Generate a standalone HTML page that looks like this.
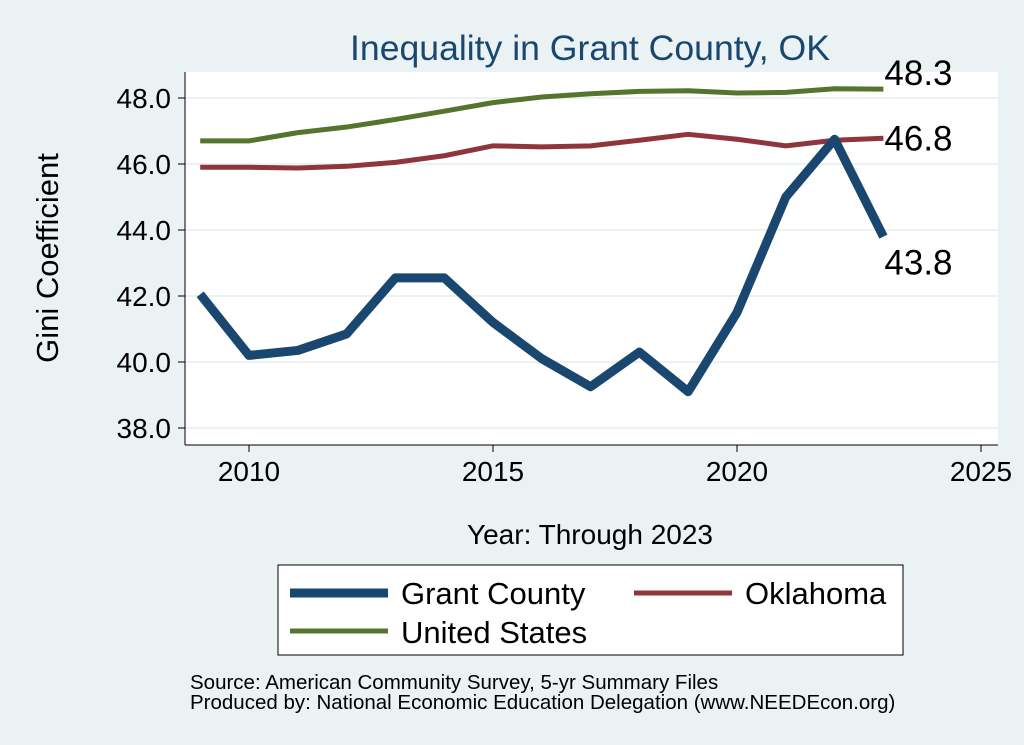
<!DOCTYPE html>
<html><head><meta charset="utf-8"><style>
body{margin:0;background:#eaf2f3;font-family:"Liberation Sans",sans-serif;}
svg{display:block}
</style></head><body>
<svg width="1024" height="745" viewBox="0 0 1024 745">
<rect x="0" y="0" width="1024" height="745" fill="#eaf2f3"/>
<rect x="185" y="72" width="813" height="373" fill="#fff"/>
<text x="590" y="60" text-anchor="middle" font-size="35.6" fill="#1a476f">Inequality in Grant County, OK</text>
<g id="grid"></g><g id="axes"></g><g id="lines"></g>
<text x="58" y="258" text-anchor="middle" font-size="31" transform="rotate(-90 58 258)">Gini Coefficient</text>
<text x="590" y="544" text-anchor="middle" font-size="28">Year: Through 2023</text>
<g>
<rect x="278" y="565" width="625" height="90" fill="#fff" stroke="#000" stroke-width="1"/>
<g><line x1="290" y1="593" x2="388" y2="593" stroke="#1a476f" stroke-width="9"/><text x="401" y="604" font-size="31">Grant County</text></g>
<g><line x1="634" y1="593" x2="732" y2="593" stroke="#90353b" stroke-width="5"/><text x="745" y="604" font-size="31">Oklahoma</text></g>
<g><line x1="290" y1="631" x2="388" y2="631" stroke="#55752f" stroke-width="5"/><text x="401" y="643" font-size="31">United States</text></g>
</g>
<text x="190" y="689" font-size="20.5">Source: American Community Survey, 5-yr Summary Files</text>
<text x="190" y="709" font-size="20.5">Produced by: National Economic Education Delegation (www.NEEDEcon.org)</text>
</svg>
<script>
const years=[2009,2010,2011,2012,2013,2014,2015,2016,2017,2018,2019,2020,2021,2022,2023];
const grant=[42.05,40.2,40.35,40.85,42.55,42.55,41.2,40.1,39.25,40.3,39.1,41.5,45.0,46.75,43.8];
const oklahoma=[45.9,45.9,45.88,45.93,46.05,46.25,46.55,46.52,46.55,46.72,46.9,46.75,46.55,46.72,46.78];
const us=[46.7,46.7,46.95,47.12,47.35,47.6,47.86,48.03,48.13,48.2,48.22,48.15,48.17,48.28,48.27];
const yTicks=[38,40,42,44,46,48];
const xTicks=[2010,2015,2020,2025];
const NS='http://www.w3.org/2000/svg';
const X=v=>249+(v-2010)*48.8;
const Y=v=>428-(v-38)*33;
function mk(t,a,p){const e=document.createElementNS(NS,t);for(const k in a)e.setAttribute(k,a[k]);p.appendChild(e);return e;}
const grid=document.getElementById('grid'),axes=document.getElementById('axes'),lines=document.getElementById('lines');
mk('line',{x1:185,y1:72,x2:185,y2:445,stroke:'#000'},axes);
mk('line',{x1:185,y1:445,x2:998,y2:445,stroke:'#000'},axes);
yTicks.forEach(v=>{
 const g=mk('line',{x1:185,x2:998,y1:Y(v),y2:Y(v),stroke:'#eaf2f3','stroke-width':2},grid);
 
 
 mk('line',{x1:178,x2:185,y1:Y(v),y2:Y(v),stroke:'#000'},axes);
 const t=mk('text',{x:171,y:Y(v)+10,'text-anchor':'end','font-size':28},axes);
 t.textContent=v.toFixed(1);
 
 
});
xTicks.forEach(v=>{
 mk('line',{x1:X(v),x2:X(v),y1:445,y2:452,stroke:'#000'},axes);
 const t=mk('text',{x:X(v),y:481,'text-anchor':'middle','font-size':28},axes);
 t.textContent=v;
 
 
});
function series(arr,col,w,name,dy){
 const p=mk('polyline',{points:arr.map((v,i)=>X(years[i])+','+Y(v)).join(' '),fill:'none',stroke:col,'stroke-width':w,'stroke-linejoin':'round'},lines);
 
 
 const last=arr[arr.length-1];
 const t=mk('text',{x:X(2023)+1,y:Y(last)+dy,'font-size':35},lines);
 t.textContent=last.toFixed(1);
 
 
}
series(us,'#55752f',5,'us-line',-4);
series(oklahoma,'#90353b',5,'oklahoma-line',12);
series(grant,'#1a476f',9,'grant-county-line',38);
</script>
</body></html>
